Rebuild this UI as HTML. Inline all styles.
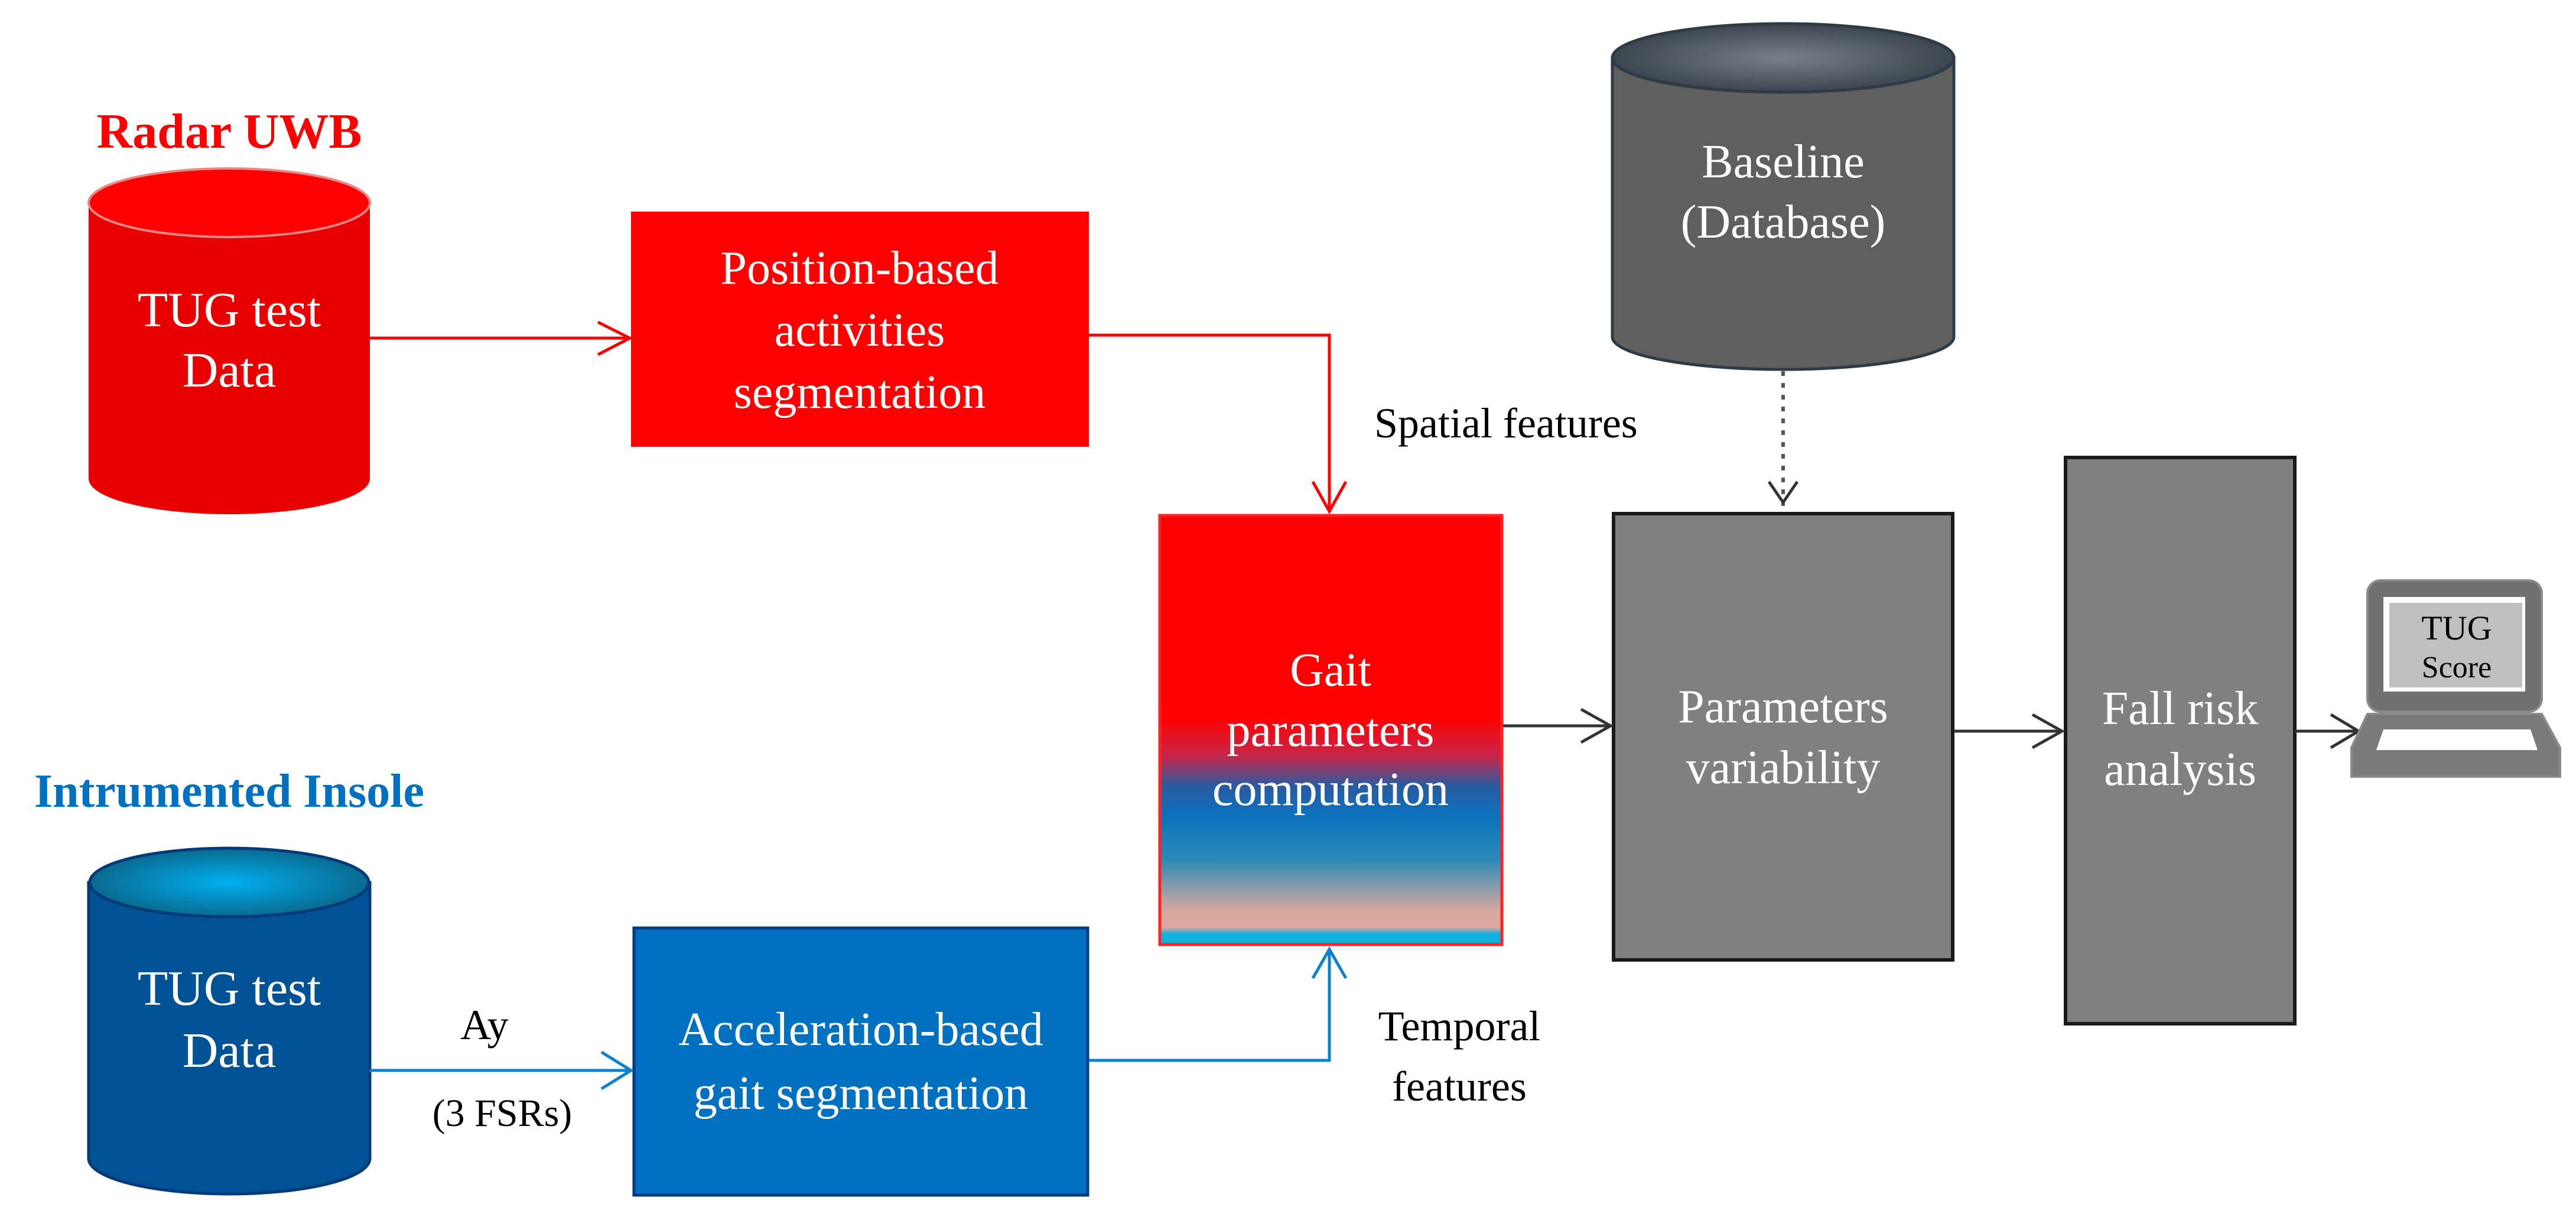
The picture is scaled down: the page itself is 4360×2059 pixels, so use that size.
<!DOCTYPE html>
<html><head><meta charset="utf-8"><style>html,body{margin:0;padding:0;background:#fff}svg{display:block}</style></head><body>
<svg width="4360" height="2059" viewBox="0 0 4360 2059" xmlns="http://www.w3.org/2000/svg" font-family="'Liberation Serif', serif">
<defs>
<linearGradient id="gait" x1="0" y1="0" x2="0" y2="1">
<stop offset="0" stop-color="#ff0000"/><stop offset="0.47" stop-color="#ff0000"/>
<stop offset="0.56" stop-color="#c8254a"/><stop offset="0.63" stop-color="#2a5aa0"/>
<stop offset="0.70" stop-color="#0a72bd"/><stop offset="0.80" stop-color="#2a8ab8"/>
<stop offset="0.92" stop-color="#d4a8a0"/><stop offset="0.96" stop-color="#e0a8a0"/>
<stop offset="0.975" stop-color="#10b0e0"/><stop offset="1" stop-color="#10b0e0"/>
</linearGradient>
<radialGradient id="btop" cx="0.5" cy="0.5" r="0.5"><stop offset="0" stop-color="#00b0f0"/><stop offset="1" stop-color="#0a6a90"/></radialGradient>
<radialGradient id="gtop" cx="0.5" cy="0.5" r="0.5"><stop offset="0" stop-color="#7a8088"/><stop offset="1" stop-color="#3c4650"/></radialGradient>
</defs>

<!-- Radar UWB -->
<text x="388" y="250" font-size="84" font-weight="bold" fill="#ff0000" text-anchor="middle">Radar UWB</text>
<path d="M150 343 L150 810 A238 60 0 0 0 626 810 L626 343 Z" fill="#e80000"/>
<ellipse cx="388" cy="343" rx="238" ry="58" fill="#ff0000" stroke="#ee8888" stroke-width="4"/>
<text x="388" y="552" font-size="84" fill="#fff" text-anchor="middle">TUG test</text>
<text x="388" y="654" font-size="84" fill="#fff" text-anchor="middle">Data</text>

<!-- red arrow -->
<line x1="626" y1="572" x2="1066" y2="572" stroke="#ff0000" stroke-width="5"/>
<polyline points="1012,545 1066,572 1012,600" fill="none" stroke="#ff0000" stroke-width="5"/>
<rect x="1068" y="358" width="775" height="398" fill="#ff0000"/>
<text font-size="80" fill="#fff" text-anchor="middle"><tspan x="1455" y="480">Position-based</tspan><tspan x="1455" y="585">activities</tspan><tspan x="1455" y="690">segmentation</tspan></text>
<polyline points="1843,567 2250,567 2250,865" fill="none" stroke="#ff0000" stroke-width="5"/>
<polyline points="2222,815 2250,865 2278,815" fill="none" stroke="#ff0000" stroke-width="5"/>
<text x="2326" y="740" font-size="72" fill="#000">Spatial features</text>

<!-- Gait box -->
<rect x="1963" y="872" width="579" height="726" fill="url(#gait)" stroke="#ff2222" stroke-width="5"/>
<text font-size="80" fill="#fff" text-anchor="middle"><tspan x="2252" y="1160">Gait</tspan><tspan x="2252" y="1262">parameters</tspan><tspan x="2252" y="1362">computation</tspan></text>

<!-- Insole -->
<text x="388" y="1365" font-size="80" font-weight="bold" fill="#0070c0" text-anchor="middle">Intrumented Insole</text>
<path d="M150 1493 L150 1960 A238 60 0 0 0 626 1960 L626 1493 Z" fill="#005294" stroke="#003a78" stroke-width="5"/>
<ellipse cx="388" cy="1493" rx="236" ry="58" fill="url(#btop)" stroke="#003a78" stroke-width="5"/>
<text x="388" y="1700" font-size="84" fill="#fff" text-anchor="middle">TUG test</text>
<text x="388" y="1805" font-size="84" fill="#fff" text-anchor="middle">Data</text>
<line x1="626" y1="1811" x2="1068" y2="1811" stroke="#0a80d0" stroke-width="5"/>
<polyline points="1018,1780 1068,1811 1018,1842" fill="none" stroke="#0a80d0" stroke-width="5"/>
<text x="820" y="1758" font-size="72" fill="#000" text-anchor="middle">Ay</text>
<text x="850" y="1905" font-size="66" fill="#000" text-anchor="middle">(3 FSRs)</text>
<rect x="1073" y="1570" width="768" height="452" fill="#0070c0" stroke="#003a80" stroke-width="5"/>
<text font-size="80" fill="#fff" text-anchor="middle"><tspan x="1457" y="1768">Acceleration-based</tspan><tspan x="1457" y="1876">gait segmentation</tspan></text>
<polyline points="1843,1794 2250,1794 2250,1606" fill="none" stroke="#0a80d0" stroke-width="5"/>
<polyline points="2222,1655 2250,1606 2278,1655" fill="none" stroke="#0a80d0" stroke-width="5"/>
<text font-size="72" fill="#000" text-anchor="middle"><tspan x="2470" y="1760">Temporal</tspan><tspan x="2470" y="1862">features</tspan></text>

<!-- Baseline -->
<path d="M2729 100 L2729 570 A289 55 0 0 0 3307 570 L3307 100 Z" fill="#5f5f5f" stroke="#2e3a44" stroke-width="5"/>
<ellipse cx="3018" cy="98" rx="289" ry="58" fill="url(#gtop)" stroke="#2e3a44" stroke-width="5"/>
<text x="3018" y="300" font-size="80" fill="#fff" text-anchor="middle">Baseline</text>
<text x="3018" y="402" font-size="80" fill="#fff" text-anchor="middle">(Database)</text>
<line x1="3018" y1="628" x2="3018" y2="860" stroke="#555" stroke-width="6" stroke-dasharray="8,12"/>
<polyline points="2994,815 3018,850 3042,815" fill="none" stroke="#333" stroke-width="5"/>

<!-- Params -->
<rect x="2731" y="869" width="574" height="755" fill="#808080" stroke="#1a1a1a" stroke-width="6"/>
<text font-size="80" fill="#fff" text-anchor="middle"><tspan x="3018" y="1222">Parameters</tspan><tspan x="3018" y="1325">variability</tspan></text>
<line x1="2544" y1="1228" x2="2726" y2="1228" stroke="#333" stroke-width="5"/>
<polyline points="2676,1200 2726,1228 2676,1256" fill="none" stroke="#333" stroke-width="5"/>

<!-- Fall risk -->
<rect x="3496" y="774" width="388" height="958" fill="#808080" stroke="#1a1a1a" stroke-width="6"/>
<text font-size="80" fill="#fff" text-anchor="middle"><tspan x="3690" y="1225">Fall risk</tspan><tspan x="3690" y="1328">analysis</tspan></text>
<line x1="3307" y1="1237" x2="3490" y2="1237" stroke="#333" stroke-width="5"/>
<polyline points="3440,1209 3490,1237 3440,1265" fill="none" stroke="#333" stroke-width="5"/>
<line x1="3884" y1="1237" x2="3992" y2="1237" stroke="#333" stroke-width="5"/>
<polyline points="3945,1209 3992,1237 3945,1265" fill="none" stroke="#333" stroke-width="5"/>

<!-- Laptop -->
<rect x="4007" y="982" width="295" height="222" rx="22" fill="#707070" stroke="#8a8a8a" stroke-width="4"/>
<rect x="4034" y="1010" width="240" height="160" fill="#fff"/>
<rect x="4044" y="1020" width="225" height="143" fill="#c0c0c0"/>
<text x="4158" y="1082" font-size="58" fill="#000" text-anchor="middle">TUG</text>
<text x="4158" y="1146" font-size="52" fill="#000" text-anchor="middle">Score</text>
<path d="M4007 1208 L4302 1208 L4333 1265 L4333 1314 L3980 1314 L3980 1265 Z" fill="#7a7a7a" stroke="#8a8a8a" stroke-width="4"/>
<path d="M4034 1234 L4283 1234 L4295 1269 L4022 1269 Z" fill="#fff"/>
</svg>
</body></html>
